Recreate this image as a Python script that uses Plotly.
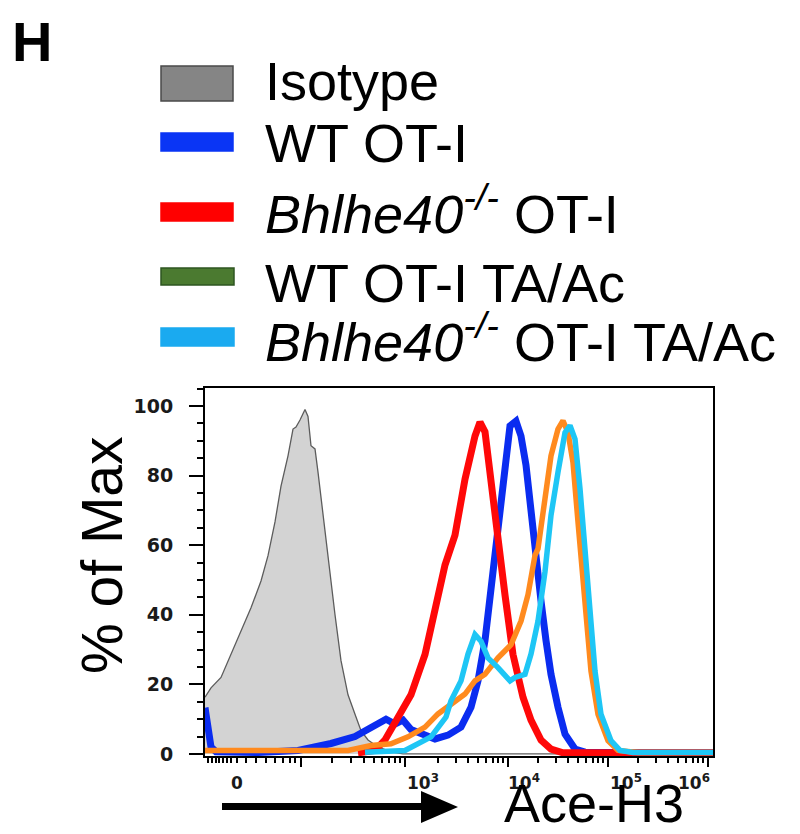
import plotly.graph_objects as go

# ---------------- data (display units: x = decade position on the biexponential axis) ----------------
iso_x = [0.97, 1.03, 1.13, 1.23, 1.33, 1.43, 1.53, 1.60, 1.67, 1.73, 1.80, 1.85, 1.88, 1.92, 1.97,
         2.00, 2.03, 2.07, 2.10, 2.15, 2.20, 2.27, 2.33, 2.40, 2.47, 2.53, 2.60, 2.70, 2.83, 2.95, 6.05]
iso_y = [16.3, 19.0, 22.0, 28.6, 35.0, 42.0, 49.7, 57.0, 66.7, 77.0, 85.7, 93.4, 94.0, 96.0, 99.0,
         97.0, 88.6, 87.7, 81.0, 68.6, 57.0, 40.0, 26.8, 17.0, 11.4, 6.7, 4.0, 2.0, 0.6, 0.0, 0.0]

wt_x = [0.97, 1.00, 1.03, 1.08, 1.50, 1.90, 2.23, 2.47, 2.63, 2.78, 2.87, 2.95, 3.03, 3.13, 3.27,
        3.40, 3.53, 3.63, 3.70, 3.77, 3.83, 3.90, 3.97, 4.02, 4.08, 4.13, 4.18, 4.23, 4.28, 4.33,
        4.38, 4.43, 4.50, 4.57, 4.67, 4.77, 5.20, 6.05]
wt_y = [13.3, 8.0, 2.0, 0.6, 0.4, 1.0, 3.0, 5.0, 7.7, 10.0, 8.6, 9.7, 7.0, 5.7, 4.3,
        5.4, 7.7, 13.4, 21.0, 32.6, 47.6, 66.7, 85.7, 94.3, 95.7, 91.4, 83.0, 68.6, 57.0, 44.0,
        32.6, 22.9, 13.4, 5.7, 1.4, 0.5, 0.3, 0.3]

ko_x = [2.50, 2.67, 2.77, 2.90, 3.03, 3.17, 3.27, 3.37, 3.47, 3.57, 3.67, 3.72, 3.77, 3.83, 3.90,
        3.97, 4.05, 4.15, 4.23, 4.33, 4.43, 4.55, 6.05]
ko_y = [0.3, 1.0, 4.0, 10.6, 17.0, 28.6, 42.0, 54.3, 62.9, 79.0, 91.4, 95.4, 92.6, 80.0, 62.0,
        45.7, 28.6, 16.3, 9.7, 4.0, 1.4, 0.3, 0.3]

wtta_x = [0.97, 2.40, 2.63, 2.83, 3.00, 3.17, 3.30, 3.47, 3.57, 3.67, 3.77, 3.90, 4.03, 4.13, 4.20,
          4.27, 4.30, 4.37, 4.43, 4.50, 4.55, 4.60, 4.65, 4.70, 4.77, 4.83, 4.90, 5.00, 5.10, 5.30, 6.05]
wtta_y = [1.0, 1.0, 2.4, 2.9, 4.9, 7.7, 11.5, 15.3, 17.2, 21.0, 22.9, 27.6, 31.4, 38.2, 45.8,
          57.1, 59.0, 73.4, 85.7, 93.4, 95.8, 92.4, 83.8, 66.7, 45.7, 23.8, 11.4, 3.8, 1.0, 0.4, 0.4]

kota_x = [2.57, 2.97, 3.23, 3.38, 3.43, 3.53, 3.60, 3.67, 3.73, 3.80, 3.90, 4.02, 4.07, 4.17, 4.23,
          4.30, 4.37, 4.43, 4.50, 4.57, 4.62, 4.67, 4.72, 4.77, 4.82, 4.87, 4.93, 5.03, 5.12, 5.25, 6.05]
kota_y = [0.5, 1.0, 4.9, 10.6, 15.3, 21.0, 28.7, 34.3, 32.4, 27.6, 24.8, 21.0, 22.0, 22.9, 28.7,
          38.2, 52.4, 68.6, 81.0, 92.4, 94.4, 90.5, 76.2, 57.1, 38.1, 23.8, 11.4, 3.8, 1.0, 0.4, 0.4]

legend_labels = ["Isotype", "WT OT-I", "<i>Bhlhe40<sup>-/-</sup></i> OT-I",
                 "WT OT-I TA/Ac", "<i>Bhlhe40<sup>-/-</sup></i> OT-I TA/Ac"]

y_tickvals = [0, 20, 40, 60, 80, 100]
x_label_vals = [1.29, 3.15, 4.16, 5.18, 5.86]
x_label_text = ["0", "10<sup>3</sup>", "10<sup>4</sup>", "10<sup>5</sup>", "10<sup>6</sup>"]
x_major_ticks = [1.93, 2.97, 4.0, 5.0, 6.0]
x_minor_ticks = ([1.00, 1.04, 1.08, 1.11, 1.15, 1.19, 1.23, 1.29,
                  1.38, 1.48, 1.58, 1.67, 1.75, 1.82, 1.87,
                  2.24, 2.43, 2.56, 2.66, 2.74, 2.81, 2.87, 2.92]
                 + [d + m for d in (3, 4, 5) for m in (0.301, 0.477, 0.602, 0.699, 0.778, 0.845, 0.903, 0.954)])

# ---------------- layout geometry ----------------
W, H = 800, 834
L, R, T, B = 197, 705, 380, 748
FONT = "Liberation Sans, Arial, sans-serif"
TICKFONT = "DejaVu Sans, Verdana, sans-serif"


def px_x(p):
    return (p - L) / (R - L)


def px_y(p):
    return (B - p) / (B - T)


fig = go.Figure()
fig.add_trace(go.Scatter(x=iso_x, y=iso_y, mode="lines", fill="tozeroy", fillcolor="#d3d3d3",
                         line=dict(color="#5c5c5c", width=1.3), hoverinfo="skip"))
fig.add_trace(go.Scatter(x=wt_x, y=wt_y, mode="lines", line=dict(color="#0a2cf0", width=7)))
fig.add_trace(go.Scatter(x=ko_x, y=ko_y, mode="lines", line=dict(color="#ff0808", width=7)))
fig.add_trace(go.Scatter(x=wtta_x, y=wtta_y, mode="lines", line=dict(color="#ff8a1e", width=5.5)))
fig.add_trace(go.Scatter(x=kota_x, y=kota_y, mode="lines", line=dict(color="#1ec6f5", width=5.5)))
fig.add_trace(go.Scatter(x=[None], y=[None], xaxis="x2", yaxis="y", mode="lines",
                         showlegend=False, hoverinfo="skip"))

shapes = []
swatches = [  # (x0, x1, y0, y1, fill, line)
    (153, 225, 58, 93, "#858585", "#4a4a4a"),
    (153, 225, 125, 143, "#0a35f5", "#0a35f5"),
    (153, 225, 195, 213, "#ff0000", "#ff0000"),
    (153, 226, 260, 277, "#4b7a30", "#2e5520"),
    (153, 226, 320, 338, "#1aaaf0", "#1aaaf0"),
]
for x0, x1, y0, y1, fc, lc in swatches:
    shapes.append(dict(type="rect", xref="paper", yref="paper",
                       x0=px_x(x0), x1=px_x(x1), y0=px_y(y1), y1=px_y(y0),
                       fillcolor=fc, line=dict(color=lc, width=1.5)))
# arrow under the x axis
shapes.append(dict(type="rect", xref="paper", yref="paper",
                   x0=px_x(214), x1=px_x(416), y0=px_y(802), y1=px_y(795),
                   fillcolor="black", line=dict(width=0)))
shapes.append(dict(type="path", xref="paper", yref="paper",
                   path=f"M {px_x(413)} {px_y(783)} L {px_x(450)} {px_y(799)} L {px_x(413)} {px_y(815)} Z",
                   fillcolor="black", line=dict(width=0)))

annotations = [
    dict(text="<b>H</b>", x=px_x(2), y=px_y(0), xanchor="left", yanchor="top",
         font=dict(size=56, family=FONT, color="black")),
    dict(text="% of Max", x=px_x(94), y=px_y(547), textangle=-90, xanchor="center", yanchor="middle",
         font=dict(size=57, family=FONT, color="black")),
    dict(text="Ace-H3", x=px_x(586), y=px_y(826), xanchor="center", yanchor="bottom",
         borderpad=0, font=dict(size=54, family=FONT, color="black")),
]
text_centers = [72.5, 135, 201.5, 275, 330]
for lab, cy in zip(legend_labels, text_centers):
    annotations.append(dict(text=lab, x=px_x(255), y=px_y(cy), xanchor="left", yanchor="middle",
                            font=dict(size=54, family=FONT, color="black")))
for a in annotations:
    a.update(xref="paper", yref="paper", showarrow=False)

fig.update_layout(
    width=W, height=H, margin=dict(l=L, r=W - R, t=T, b=H - B),
    paper_bgcolor="white", plot_bgcolor="white", showlegend=False,
    shapes=shapes, annotations=annotations,
    xaxis=dict(range=[0.97, 6.05], showgrid=False, zeroline=False, showline=True, linecolor="black",
               linewidth=2, mirror=True, tickmode="array", tickvals=x_label_vals, ticktext=x_label_text,
               ticks="", ticklabelstandoff=11,
               tickfont=dict(size=17, family=TICKFONT, color="#1a1a1a", weight="bold")),
    xaxis2=dict(range=[0.97, 6.05], overlaying="x", anchor="y", side="bottom", showgrid=False,
                zeroline=False, showline=False, showticklabels=False, tickmode="array",
                tickvals=x_major_ticks, ticks="outside", ticklen=10, tickwidth=2, tickcolor="black",
                minor=dict(tickmode="array", tickvals=x_minor_ticks, ticks="outside", ticklen=6,
                           tickwidth=1.5, tickcolor="black", showgrid=False)),
    yaxis=dict(range=[-0.6, 105.2], showgrid=False, zeroline=False, showline=True, linecolor="black",
               linewidth=2, mirror=True, tickmode="array", tickvals=y_tickvals, ticks="outside",
               ticklen=14, tickwidth=2, tickcolor="black", ticklabelstandoff=12,
               tickfont=dict(size=19, family=TICKFONT, color="#1a1a1a", weight="bold"),
               minor=dict(dtick=5, tick0=0, ticks="outside", ticklen=6, tickwidth=1.5,
                          tickcolor="black", showgrid=False)),
)

fig.write_html("out.html")
